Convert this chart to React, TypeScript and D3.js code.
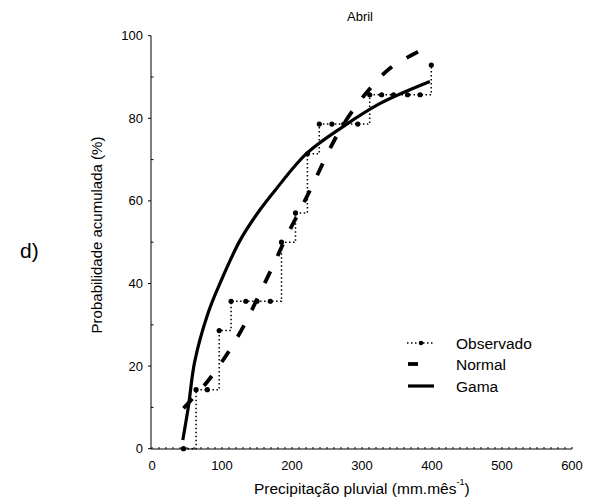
import React from "react";
import * as d3 from "d3";

// ---- data ----
const obsX = [45, 63, 79, 96, 113, 134, 150, 169, 185, 205, 222, 239, 257, 274, 294, 311, 328, 345, 365, 383, 399];
const obsP = [0, 14.3, 14.3, 28.6, 35.7, 35.7, 35.7, 35.7, 50, 57.1, 71.4, 78.6, 78.6, 78.6, 78.6, 85.7, 85.7, 85.7, 85.7, 85.7, 92.9];

const normalX = [45, 79, 111, 135, 154, 174, 192, 214, 233, 252, 273, 304, 340, 380, 399];
const normalP = [9.8, 16.2, 23.9, 31, 37.6, 44.7, 51.3, 58.6, 65.1, 71.9, 78.4, 85.7, 92.1, 96.1, 97.7];

const gamaX = [44, 52, 61, 80, 97, 126, 154, 176, 221, 273, 326, 397];
const gamaP = [2.1, 10.2, 21.1, 32.8, 40, 50.5, 57.8, 62.6, 71.5, 78, 83.6, 88.9];

const xTicks = [0, 100, 200, 300, 400, 500, 600];
const yTicks = [0, 20, 40, 60, 80, 100];
const yMinor = [10, 30, 50, 70, 90];
const xMinor = d3.range(0, 601, 10);

const title = "Abril";
const xLabel = "Precipitação pluvial (mm.mês";
const xLabelSup = "-1";
const yLabel = "Probabilidade acumulada (%)";
const legendItems = ["Observado", "Normal", "Gama"];

const FONT = "'Liberation Sans', Arial, sans-serif";

export default function App() {
  const x = d3.scaleLinear().domain([0, 600]).range([152, 572]);
  const y = d3.scaleLinear().domain([0, 100]).range([448.7, 35.7]);

  const obs = obsX.map((v, i) => [v, obsP[i]] as [number, number]);
  const nor = normalX.map((v, i) => [v, normalP[i]] as [number, number]);
  const gam = gamaX.map((v, i) => [v, gamaP[i]] as [number, number]);

  const stepLine = d3.line<[number, number]>().x(d => x(d[0])).y(d => y(d[1])).curve(d3.curveStepAfter);
  const smooth = d3.line<[number, number]>().x(d => x(d[0])).y(d => y(d[1])).curve(d3.curveCatmullRom.alpha(0.5));

  const axisX = 151;
  const axisY = 449;

  const legY = [343, 364, 386];

  return (
    <svg width={591} height={504} style={{ position: "absolute", left: 0, top: 0, background: "#fff" }} fontFamily={FONT}>
      <rect width={591} height={504} fill="#fff" />
      <text x={360} y={21} fontSize={13} textAnchor="middle">{title}</text>
      <text x={20} y={258} fontSize={21}>d)</text>

      {/* y axis */}
      <line x1={axisX} x2={axisX} y1={y(100)} y2={axisY} stroke="#000" strokeWidth={1} />
      {yTicks.map(t => (
        <g key={"yt" + t}>
          <line x1={axisX - 3} x2={axisX} y1={y(t)} y2={y(t)} stroke="#000" />
          <text x={143} y={y(t) + 4.5} fontSize={13} textAnchor="end">{t}</text>
        </g>
      ))}
      {yMinor.map(t => (
        <line key={"ym" + t} x1={axisX} x2={axisX + 2.5} y1={y(t)} y2={y(t)} stroke="#000" />
      ))}
      <text transform={`translate(102,235) rotate(-90)`} fontSize={15} textAnchor="middle">{yLabel}</text>

      {/* x axis */}
      <line x1={axisX} x2={x(600)} y1={axisY} y2={axisY} stroke="#000" strokeWidth={1} />
      {xMinor.map(t => (
        <line key={"xm" + t} x1={x(t)} x2={x(t)} y1={axisY} y2={axisY - 2} stroke="#000" strokeWidth={1} />
      ))}
      {xTicks.map(t => (
        <text key={"xt" + t} x={x(t)} y={470} fontSize={13} textAnchor="middle">{t}</text>
      ))}
      <text x={254} y={494} fontSize={15.5}>
        {xLabel}
        <tspan fontSize={9} dy={-9}>{xLabelSup}</tspan>
        <tspan fontSize={15.5} dy={9}>)</tspan>
      </text>

      {/* Observado: dotted step with dots */}
      <path d={stepLine(obs) || ""} fill="none" stroke="#000" strokeWidth={1.5} strokeDasharray="1.5,2.5" />
      {obs.map((d, i) => (
        <circle key={"o" + i} cx={x(d[0])} cy={y(d[1])} r={2.6} fill="#000" />
      ))}

      {/* Normal: dashed */}
      <path d={smooth(nor) || ""} fill="none" stroke="#000" strokeWidth={3.8} strokeDasharray="13,17" />

      {/* Gama: solid */}
      <path d={smooth(gam) || ""} fill="none" stroke="#000" strokeWidth={3.2} />

      {/* legend */}
      <line x1={407} x2={435} y1={legY[0]} y2={legY[0]} stroke="#000" strokeWidth={1.5} strokeDasharray="1.5,2.5" />
      <circle cx={421} cy={legY[0]} r={2.3} fill="#000" />
      <line x1={408} x2={418} y1={legY[1]} y2={legY[1]} stroke="#000" strokeWidth={3.8} />
      <line x1={408} x2={434} y1={legY[2]} y2={legY[2]} stroke="#000" strokeWidth={3.2} />
      {legendItems.map((s, i) => (
        <text key={s} x={456} y={legY[i] + 5.5} fontSize={15.5}>{s}</text>
      ))}
    </svg>
  );
}
